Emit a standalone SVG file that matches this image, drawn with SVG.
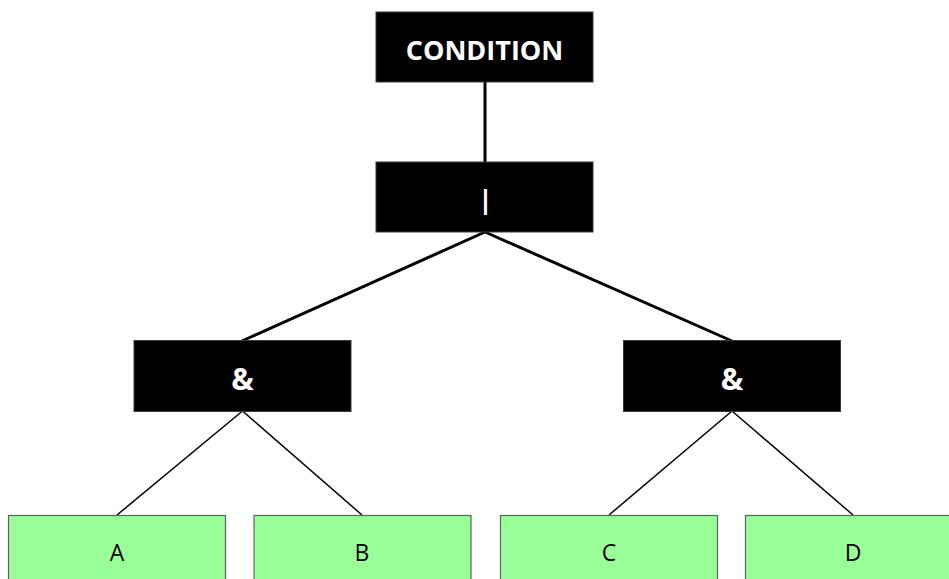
<svg xmlns="http://www.w3.org/2000/svg" width="949" height="579" viewBox="0 0 949 579">
<style>
.op rect{fill:#000;stroke:#3a3a3a;stroke-width:1}
.op text{fill:#fff;font-family:"Open Sans","Liberation Sans",sans-serif;font-weight:bold;font-size:27px;text-anchor:middle}
.op text.amp{font-size:30px}
.leaf rect{fill:#99ff99;stroke:#606060;stroke-width:1.2}
.leaf text{fill:#000;font-family:"Open Sans","Liberation Sans",sans-serif;font-size:23px;text-anchor:middle}
.thick{stroke:#000;stroke-width:3;fill:none}
.thin{stroke:#000;stroke-width:1.5;fill:none}
</style>
<rect width="949" height="579" fill="#fff"/>
<g id="connectors">
<line class="thick" x1="485" y1="82" x2="485" y2="162"/>
<line class="thick" x1="485" y1="232" x2="242" y2="341"/>
<line class="thick" x1="485" y1="232" x2="732" y2="341"/>
<line class="thin" x1="242.5" y1="411" x2="117" y2="515"/>
<line class="thin" x1="242.5" y1="411" x2="362" y2="515"/>
<line class="thin" x1="732" y1="411" x2="609" y2="515"/>
<line class="thin" x1="732" y1="411" x2="853" y2="515"/>
</g>
<g id="condition" class="op">
<rect x="376" y="12" width="217" height="70"/>
<text x="484.5" y="60">CONDITION</text>
</g>
<g id="or" class="op">
<rect x="376" y="162" width="217" height="70"/>
<text x="485.5" y="209">|</text>
</g>
<g id="and1" class="op">
<rect x="134" y="340.5" width="217" height="71"/>
<text class="amp" x="242.5" y="390">&amp;</text>
</g>
<g id="and2" class="op">
<rect x="623.5" y="340.5" width="217" height="71"/>
<text class="amp" x="732" y="390">&amp;</text>
</g>
<g id="a" class="leaf">
<rect x="8.5" y="515.5" width="217" height="70"/>
<text x="117" y="561">A</text>
</g>
<g id="b" class="leaf">
<rect x="254" y="515.5" width="217" height="70"/>
<text x="362" y="561">B</text>
</g>
<g id="c" class="leaf">
<rect x="500.5" y="515.5" width="217" height="70"/>
<text x="609" y="561">C</text>
</g>
<g id="d" class="leaf">
<rect x="745.5" y="515.5" width="217" height="70"/>
<text x="853" y="561">D</text>
</g>
</svg>
